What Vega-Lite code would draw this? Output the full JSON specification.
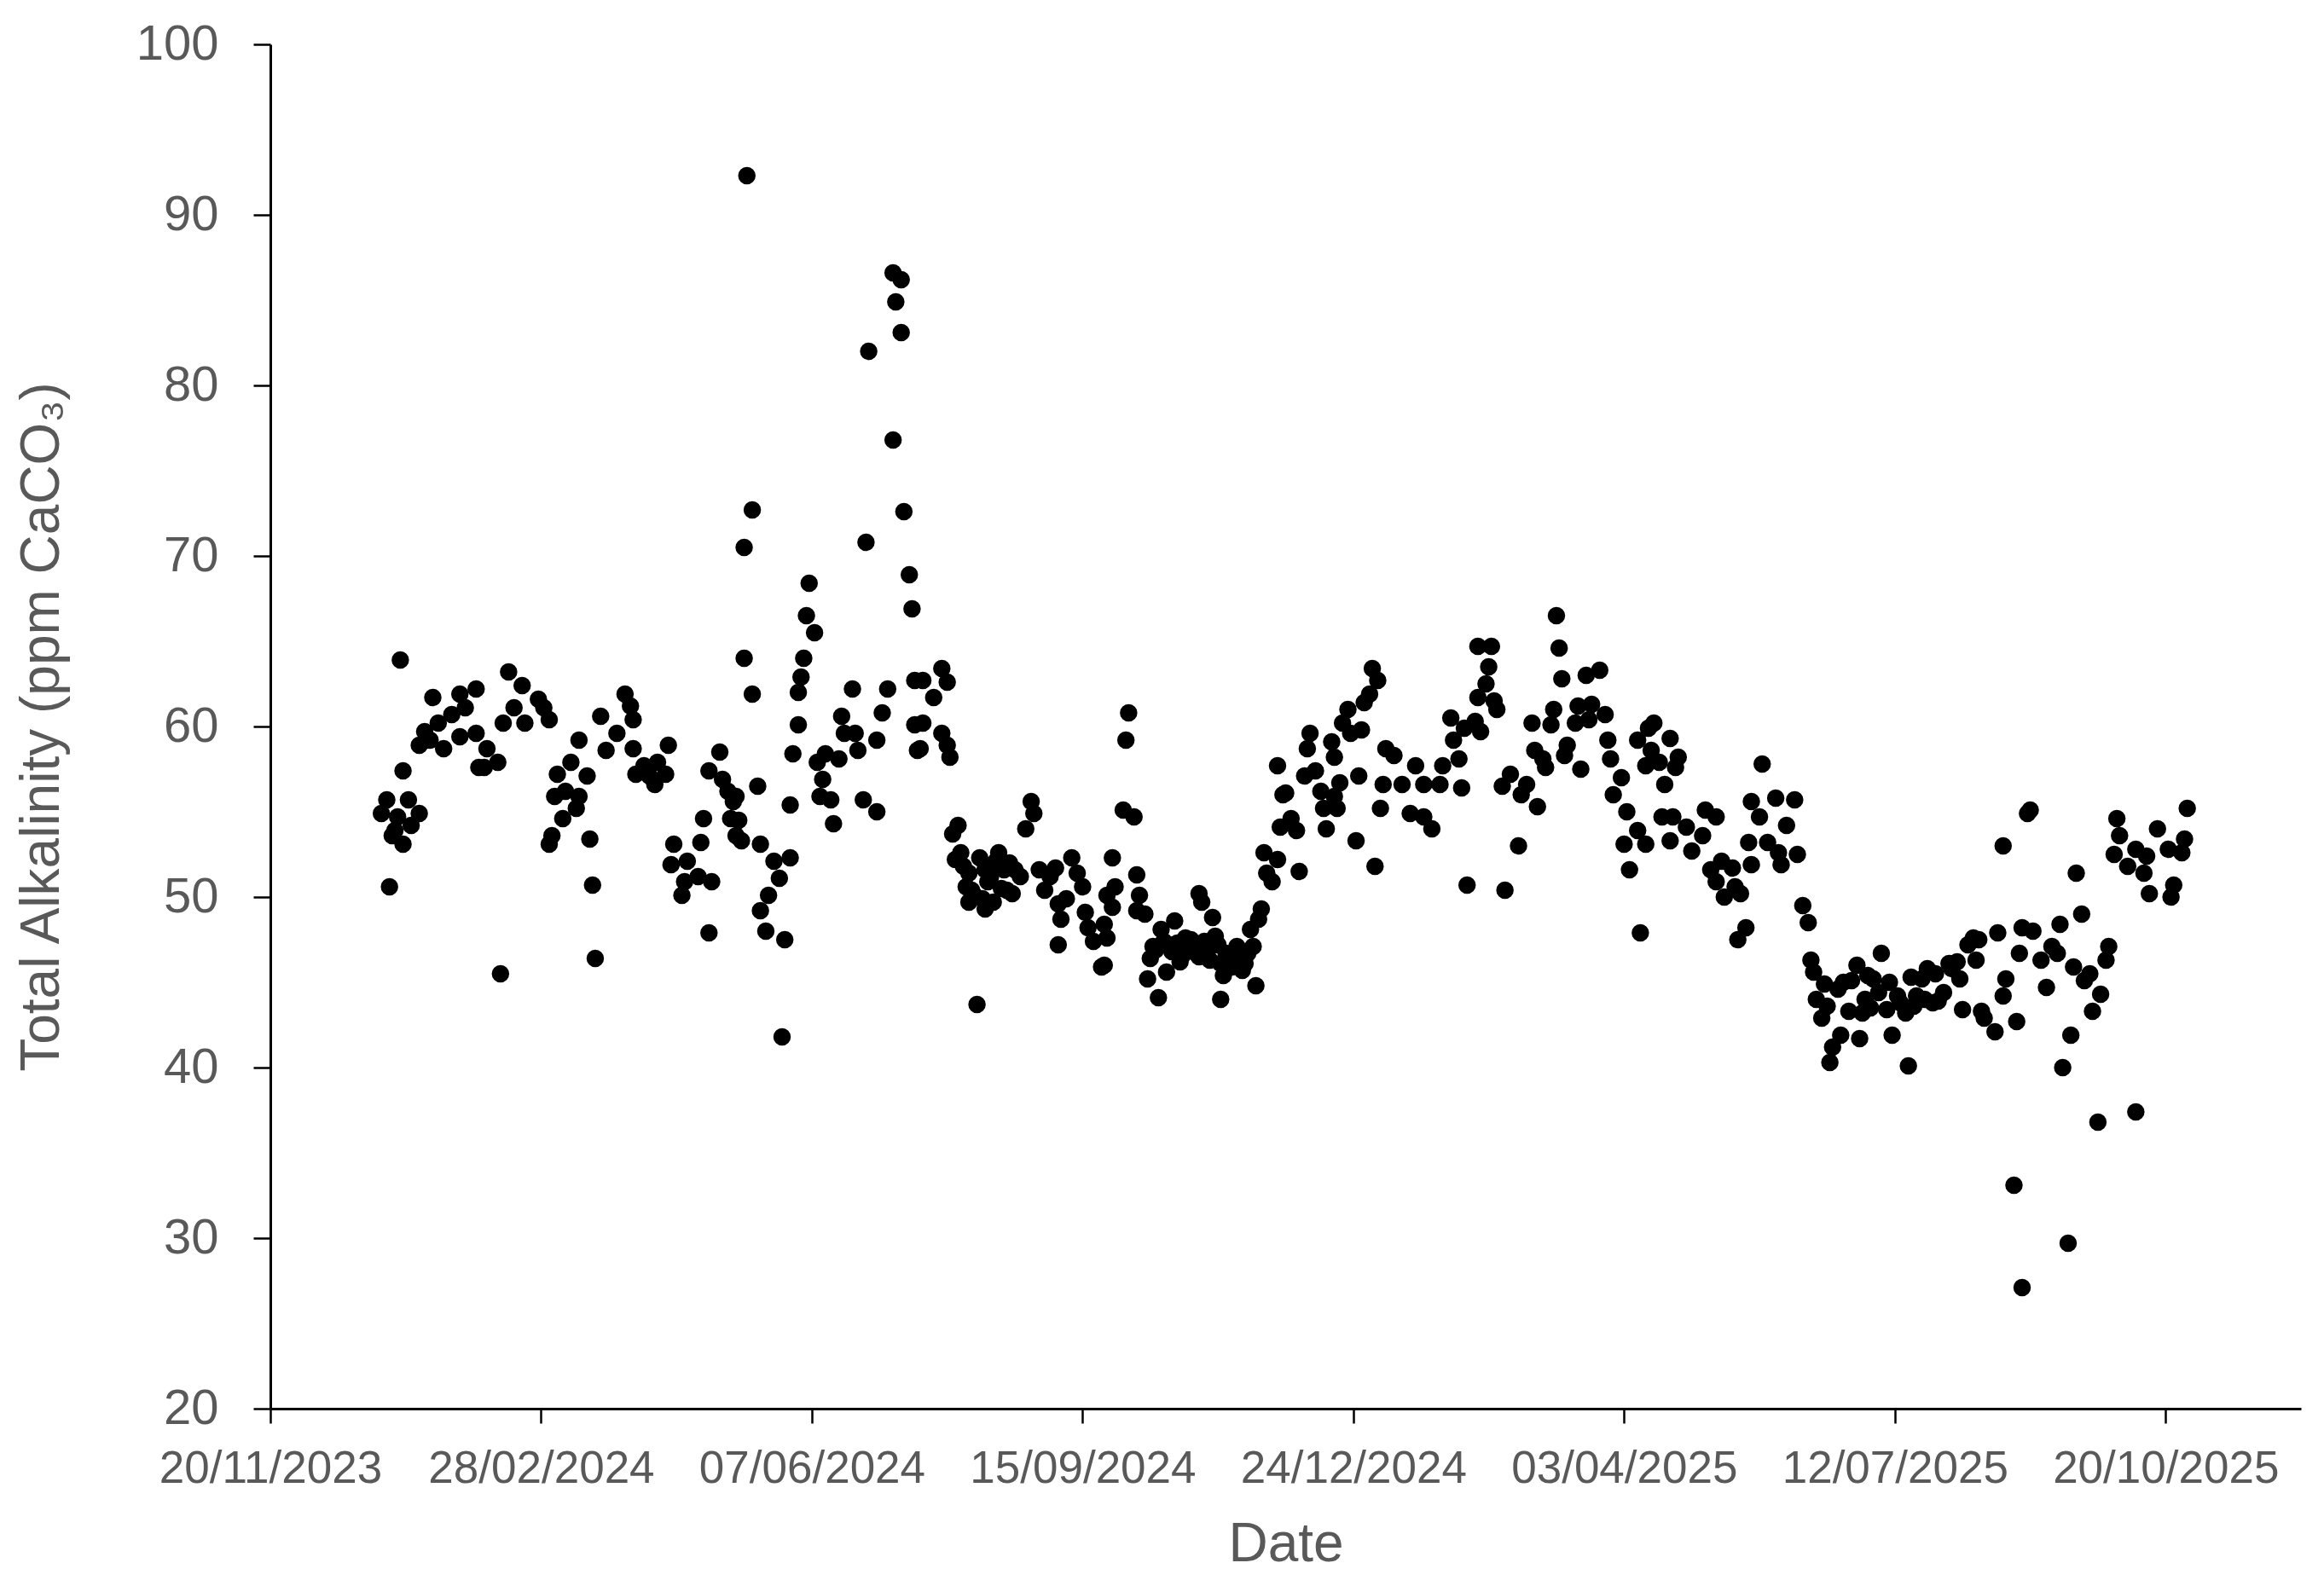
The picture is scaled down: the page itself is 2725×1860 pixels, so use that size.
{
  "$schema": "https://vega.github.io/schema/vega-lite/v6.json",
  "width": 2381,
  "height": 1600,
  "autosize": {"type": "none"},
  "padding": {"left": 317, "top": 52, "right": 27, "bottom": 208},
  "background": "white",
  "config": {"view": {"stroke": null}},
  "data": {"values": [
    {"date":"2024-01-07","ta":63.9},{"date":"2024-02-16","ta":63.2},{"date":"2024-01-19","ta":61.7},{"date":"2024-01-29","ta":61.9},{"date":"2024-02-04","ta":62.2},{"date":"2024-01-26","ta":60.7},{"date":"2024-01-31","ta":61.1},{"date":"2024-01-21","ta":60.2},{"date":"2024-01-16","ta":59.7},{"date":"2024-01-14","ta":58.9},{"date":"2024-01-18","ta":59.2},{"date":"2024-01-23","ta":58.7},{"date":"2024-01-29","ta":59.4},{"date":"2024-02-04","ta":59.6},{"date":"2024-02-08","ta":58.7},{"date":"2024-02-07","ta":57.6},{"date":"2024-02-12","ta":57.9},{"date":"2024-02-05","ta":57.6},{"date":"2024-01-08","ta":57.4},{"date":"2024-01-02","ta":55.7},{"date":"2024-01-10","ta":55.7},{"date":"2023-12-31","ta":54.9},{"date":"2024-01-06","ta":54.7},{"date":"2024-01-14","ta":54.9},{"date":"2024-01-05","ta":53.9},{"date":"2024-01-11","ta":54.2},{"date":"2024-01-08","ta":53.1},{"date":"2024-01-04","ta":53.6},{"date":"2024-01-03","ta":50.6},{"date":"2024-02-13","ta":45.5},{"date":"2024-02-21","ta":62.4},{"date":"2024-02-27","ta":61.6},{"date":"2024-02-14","ta":60.2},{"date":"2024-02-22","ta":60.2},{"date":"2024-02-29","ta":61.1},{"date":"2024-02-18","ta":61.1},
    {"date":"2024-03-02","ta":60.4},{"date":"2024-03-10","ta":57.9},{"date":"2024-03-16","ta":57.1},{"date":"2024-03-05","ta":57.2},{"date":"2024-03-08","ta":56.2},{"date":"2024-03-13","ta":55.9},{"date":"2024-03-04","ta":55.9},{"date":"2024-03-12","ta":55.2},{"date":"2024-03-07","ta":54.6},{"date":"2024-03-03","ta":53.6},{"date":"2024-03-02","ta":53.1},{"date":"2024-03-17","ta":53.4},{"date":"2024-03-18","ta":50.7},{"date":"2024-03-19","ta":46.4},{"date":"2024-03-30","ta":61.9},{"date":"2024-04-01","ta":61.2},{"date":"2024-03-21","ta":60.6},{"date":"2024-04-02","ta":60.4},{"date":"2024-03-27","ta":59.6},{"date":"2024-03-13","ta":59.2},{"date":"2024-03-23","ta":58.6},{"date":"2024-04-02","ta":58.7},{"date":"2024-04-15","ta":58.9},{"date":"2024-04-06","ta":57.7},{"date":"2024-04-11","ta":57.9},{"date":"2024-04-14","ta":57.2},{"date":"2024-04-03","ta":57.2},{"date":"2024-04-10","ta":56.6},{"date":"2024-04-08","ta":57.1},{"date":"2024-04-28","ta":54.6},{"date":"2024-04-17","ta":53.1},{"date":"2024-04-27","ta":53.2},{"date":"2024-04-16","ta":51.9},{"date":"2024-04-22","ta":52.1},{"date":"2024-04-26","ta":51.2},{"date":"2024-05-01","ta":50.9},{"date":"2024-04-20","ta":50.1},{"date":"2024-04-21","ta":50.9},{"date":"2024-04-30","ta":47.9},{"date":"2024-05-04","ta":58.5},{"date":"2024-04-30","ta":57.4},{"date":"2024-05-05","ta":56.9},{"date":"2024-05-07","ta":56.2},{"date":"2024-05-09","ta":55.6},{"date":"2024-05-08","ta":54.6},{"date":"2024-05-10","ta":53.6},
    {"date":"2024-05-14","ta":92.3},{"date":"2024-07-07","ta":86.6},{"date":"2024-07-10","ta":86.2},{"date":"2024-07-08","ta":84.9},{"date":"2024-07-10","ta":83.1},{"date":"2024-06-28","ta":82.0},{"date":"2024-07-07","ta":76.8},{"date":"2024-05-16","ta":72.7},{"date":"2024-05-13","ta":70.5},{"date":"2024-07-11","ta":72.6},{"date":"2024-06-27","ta":70.8},{"date":"2024-07-13","ta":68.9},{"date":"2024-07-14","ta":66.9},{"date":"2024-06-06","ta":68.4},{"date":"2024-06-05","ta":66.5},{"date":"2024-06-08","ta":65.5},{"date":"2024-05-13","ta":64.0},{"date":"2024-06-04","ta":64.0},{"date":"2024-06-03","ta":62.9},{"date":"2024-05-16","ta":61.9},{"date":"2024-06-02","ta":62.0},{"date":"2024-06-22","ta":62.2},{"date":"2024-07-05","ta":62.2},{"date":"2024-07-15","ta":62.7},{"date":"2024-06-02","ta":60.1},{"date":"2024-06-18","ta":60.6},{"date":"2024-07-03","ta":60.8},{"date":"2024-07-15","ta":60.1},{"date":"2024-05-31","ta":58.4},{"date":"2024-06-19","ta":59.6},{"date":"2024-06-23","ta":59.6},{"date":"2024-06-09","ta":57.9},{"date":"2024-06-12","ta":58.4},{"date":"2024-06-17","ta":58.1},{"date":"2024-06-24","ta":58.6},{"date":"2024-07-01","ta":59.2},{"date":"2024-07-16","ta":58.6},{"date":"2024-05-18","ta":56.5},{"date":"2024-06-11","ta":56.9},{"date":"2024-05-30","ta":55.4},{"date":"2024-06-10","ta":55.9},{"date":"2024-06-14","ta":55.7},{"date":"2024-06-15","ta":54.3},{"date":"2024-06-26","ta":55.7},{"date":"2024-07-01","ta":55.0},{"date":"2024-05-10","ta":55.9},{"date":"2024-05-11","ta":54.5},{"date":"2024-05-12","ta":53.3},{"date":"2024-05-19","ta":53.1},{"date":"2024-05-24","ta":52.1},{"date":"2024-05-30","ta":52.3},{"date":"2024-05-26","ta":51.1},{"date":"2024-05-22","ta":50.1},{"date":"2024-05-19","ta":49.2},{"date":"2024-05-21","ta":48.0},{"date":"2024-05-28","ta":47.5},{"date":"2024-05-27","ta":41.8},
    {"date":"2024-07-25","ta":63.4},{"date":"2024-07-18","ta":62.7},{"date":"2024-07-27","ta":62.6},{"date":"2024-07-22","ta":61.7},{"date":"2024-07-18","ta":60.2},{"date":"2024-07-25","ta":59.6},{"date":"2024-07-17","ta":58.7},{"date":"2024-07-27","ta":58.9},{"date":"2024-07-28","ta":58.2},{"date":"2024-08-27","ta":55.6},{"date":"2024-08-28","ta":54.9},{"date":"2024-08-25","ta":54.0},{"date":"2024-07-31","ta":54.2},{"date":"2024-07-29","ta":53.7},{"date":"2024-08-01","ta":52.6},{"date":"2024-07-30","ta":52.2},{"date":"2024-08-15","ta":52.6},{"date":"2024-09-11","ta":52.3},{"date":"2024-08-04","ta":51.4},{"date":"2024-08-10","ta":51.6},{"date":"2024-08-17","ta":51.6},{"date":"2024-08-23","ta":51.2},{"date":"2024-08-30","ta":51.6},{"date":"2024-09-03","ta":51.2},{"date":"2024-09-13","ta":51.4},{"date":"2024-09-15","ta":50.6},{"date":"2024-08-03","ta":50.6},{"date":"2024-08-06","ta":50.1},{"date":"2024-08-11","ta":50.9},{"date":"2024-08-18","ta":50.4},{"date":"2024-08-04","ta":49.7},{"date":"2024-08-10","ta":49.3},{"date":"2024-09-01","ta":50.4},{"date":"2024-09-06","ta":49.6},{"date":"2024-09-09","ta":49.9},{"date":"2024-09-07","ta":48.7},{"date":"2024-09-16","ta":49.1},{"date":"2024-09-17","ta":48.2},{"date":"2024-09-06","ta":47.2},{"date":"2024-09-19","ta":47.4},{"date":"2024-09-22","ta":45.9},{"date":"2024-08-07","ta":43.7},
    {"date":"2024-08-02","ta":51.8},{"date":"2024-08-05","ta":50.4},{"date":"2024-08-08","ta":52.3},{"date":"2024-08-09","ta":49.9},{"date":"2024-08-12","ta":51.2},{"date":"2024-08-13","ta":49.7},{"date":"2024-08-14","ta":52.1},{"date":"2024-08-16","ta":50.5},{"date":"2024-08-19","ta":52.0},{"date":"2024-08-20","ta":50.2},{"date":"2024-08-21","ta":51.6},{"date":"2024-09-05","ta":51.7},
    {"date":"2024-10-02","ta":60.8},{"date":"2024-10-01","ta":59.2},{"date":"2024-09-30","ta":55.1},{"date":"2024-10-04","ta":54.7},{"date":"2024-11-26","ta":57.7},{"date":"2024-11-28","ta":56.0},{"date":"2024-11-27","ta":54.1},{"date":"2024-11-21","ta":52.6},{"date":"2024-11-26","ta":52.2},{"date":"2024-11-22","ta":51.4},{"date":"2024-11-24","ta":50.9},{"date":"2024-09-26","ta":52.3},{"date":"2024-10-05","ta":51.3},{"date":"2024-09-27","ta":50.6},{"date":"2024-09-24","ta":50.1},{"date":"2024-10-06","ta":50.1},{"date":"2024-09-26","ta":49.4},{"date":"2024-10-05","ta":49.2},{"date":"2024-10-08","ta":49.0},{"date":"2024-09-23","ta":48.4},{"date":"2024-09-24","ta":47.6},{"date":"2024-09-23","ta":46.0},{"date":"2024-10-28","ta":50.2},{"date":"2024-10-29","ta":49.7},{"date":"2024-11-02","ta":48.8},{"date":"2024-11-20","ta":49.3},{"date":"2024-11-19","ta":48.7},{"date":"2024-11-16","ta":48.1},{"date":"2024-10-19","ta":48.6},{"date":"2024-10-14","ta":48.1},{"date":"2024-10-23","ta":47.6},{"date":"2024-11-03","ta":47.7},{"date":"2024-10-11","ta":47.1},{"date":"2024-10-17","ta":47.2},{"date":"2024-10-26","ta":47.1},{"date":"2024-10-31","ta":46.9},{"date":"2024-11-07","ta":46.7},{"date":"2024-11-11","ta":47.1},{"date":"2024-11-17","ta":47.1},{"date":"2024-10-10","ta":46.4},{"date":"2024-10-22","ta":46.6},{"date":"2024-10-28","ta":46.5},{"date":"2024-11-05","ta":46.1},{"date":"2024-11-09","ta":45.9},{"date":"2024-11-14","ta":46.1},{"date":"2024-10-16","ta":45.6},{"date":"2024-11-06","ta":45.4},{"date":"2024-10-09","ta":45.2},{"date":"2024-11-18","ta":44.8},{"date":"2024-10-13","ta":44.1},{"date":"2024-11-05","ta":44.0},
    {"date":"2024-10-12","ta":46.9},{"date":"2024-10-15","ta":47.4},{"date":"2024-10-18","ta":46.8},{"date":"2024-10-20","ta":47.3},{"date":"2024-10-21","ta":46.2},{"date":"2024-10-24","ta":46.9},{"date":"2024-10-25","ta":47.5},{"date":"2024-10-27","ta":46.7},{"date":"2024-10-30","ta":47.4},{"date":"2024-11-01","ta":46.3},{"date":"2024-11-04","ta":47.2},{"date":"2024-11-08","ta":46.5},{"date":"2024-11-10","ta":46.2},{"date":"2024-11-12","ta":46.8},{"date":"2024-11-13","ta":45.7},{"date":"2024-11-15","ta":46.7},
    {"date":"2024-12-31","ta":63.4},{"date":"2025-01-02","ta":62.7},{"date":"2024-12-30","ta":61.9},{"date":"2024-12-28","ta":61.4},{"date":"2024-12-22","ta":61.0},{"date":"2024-12-20","ta":60.2},{"date":"2024-12-23","ta":59.6},{"date":"2024-12-27","ta":59.8},{"date":"2024-12-08","ta":59.6},{"date":"2024-12-07","ta":58.7},{"date":"2024-12-16","ta":59.1},{"date":"2024-12-17","ta":58.2},{"date":"2025-01-05","ta":58.7},{"date":"2025-01-08","ta":58.3},{"date":"2025-01-29","ta":60.5},{"date":"2025-01-30","ta":59.2},{"date":"2025-02-03","ta":59.9},{"date":"2024-12-06","ta":57.1},{"date":"2024-12-10","ta":57.4},{"date":"2024-12-19","ta":56.7},{"date":"2024-12-26","ta":57.1},{"date":"2024-12-12","ta":56.2},{"date":"2024-12-17","ta":55.9},{"date":"2024-12-13","ta":55.2},{"date":"2024-12-18","ta":55.2},{"date":"2024-11-29","ta":56.1},{"date":"2025-01-16","ta":57.7},{"date":"2025-01-26","ta":57.7},{"date":"2025-02-01","ta":58.1},{"date":"2025-02-02","ta":56.4},{"date":"2025-01-04","ta":56.6},{"date":"2025-01-11","ta":56.6},{"date":"2025-01-19","ta":56.6},{"date":"2025-01-25","ta":56.6},{"date":"2025-01-03","ta":55.2},{"date":"2025-01-14","ta":54.9},{"date":"2025-01-19","ta":54.7},{"date":"2025-01-22","ta":54.0},{"date":"2024-12-01","ta":54.6},{"date":"2024-12-03","ta":53.9},{"date":"2024-12-14","ta":54.0},{"date":"2024-12-25","ta":53.3},{"date":"2024-12-04","ta":51.5},{"date":"2025-01-01","ta":51.8},{"date":"2025-02-04","ta":50.7},
    {"date":"2025-03-09","ta":66.5},{"date":"2025-03-10","ta":64.6},{"date":"2025-02-08","ta":64.7},{"date":"2025-02-13","ta":64.7},{"date":"2025-02-12","ta":63.5},{"date":"2025-02-11","ta":62.5},{"date":"2025-02-08","ta":61.7},{"date":"2025-02-14","ta":61.5},{"date":"2025-02-15","ta":61.0},{"date":"2025-02-07","ta":60.3},{"date":"2025-02-09","ta":59.7},{"date":"2025-03-11","ta":62.8},{"date":"2025-03-20","ta":63.0},{"date":"2025-03-25","ta":63.3},{"date":"2025-03-08","ta":61.0},{"date":"2025-03-17","ta":61.2},{"date":"2025-03-22","ta":61.3},{"date":"2025-03-27","ta":60.7},{"date":"2025-03-16","ta":60.2},{"date":"2025-03-21","ta":60.4},{"date":"2025-02-28","ta":60.2},{"date":"2025-03-07","ta":60.1},{"date":"2025-03-28","ta":59.2},{"date":"2025-04-08","ta":59.2},{"date":"2025-04-12","ta":59.9},{"date":"2025-03-13","ta":58.9},{"date":"2025-03-12","ta":58.3},{"date":"2025-03-01","ta":58.6},{"date":"2025-03-04","ta":58.1},{"date":"2025-03-05","ta":57.6},{"date":"2025-03-18","ta":57.5},{"date":"2025-03-29","ta":58.1},{"date":"2025-04-11","ta":57.7},{"date":"2025-04-02","ta":57.0},{"date":"2025-03-30","ta":56.0},{"date":"2025-02-20","ta":57.2},{"date":"2025-02-17","ta":56.5},{"date":"2025-02-26","ta":56.6},{"date":"2025-02-24","ta":56.0},{"date":"2025-03-02","ta":55.3},{"date":"2025-04-04","ta":55.0},{"date":"2025-04-08","ta":53.9},{"date":"2025-04-03","ta":53.1},{"date":"2025-04-11","ta":53.1},{"date":"2025-04-05","ta":51.6},{"date":"2025-02-23","ta":53.0},{"date":"2025-02-18","ta":50.4},{"date":"2025-04-09","ta":47.9},
    {"date":"2025-04-14","ta":60.2},{"date":"2025-04-20","ta":59.3},{"date":"2025-04-13","ta":58.6},{"date":"2025-04-23","ta":58.2},{"date":"2025-04-16","ta":57.9},{"date":"2025-04-22","ta":57.6},{"date":"2025-04-18","ta":56.6},{"date":"2025-05-24","ta":57.8},{"date":"2025-05-20","ta":55.6},{"date":"2025-05-29","ta":55.8},{"date":"2025-06-05","ta":55.7},{"date":"2025-05-23","ta":54.7},{"date":"2025-06-02","ta":54.2},{"date":"2025-05-03","ta":55.1},{"date":"2025-05-07","ta":54.7},{"date":"2025-04-17","ta":54.7},{"date":"2025-04-21","ta":54.7},{"date":"2025-04-26","ta":54.1},{"date":"2025-05-02","ta":53.6},{"date":"2025-04-20","ta":53.3},{"date":"2025-04-28","ta":52.7},{"date":"2025-05-19","ta":53.2},{"date":"2025-05-26","ta":53.2},{"date":"2025-05-30","ta":52.6},{"date":"2025-06-06","ta":52.5},{"date":"2025-05-20","ta":51.9},{"date":"2025-05-31","ta":51.9},{"date":"2025-05-09","ta":52.1},{"date":"2025-05-05","ta":51.6},{"date":"2025-05-13","ta":51.7},{"date":"2025-05-07","ta":50.9},{"date":"2025-05-14","ta":50.6},{"date":"2025-05-10","ta":50.0},{"date":"2025-05-16","ta":50.2},{"date":"2025-06-08","ta":49.5},{"date":"2025-06-10","ta":48.5},{"date":"2025-05-18","ta":48.2},{"date":"2025-05-15","ta":47.5},{"date":"2025-06-11","ta":46.3},{"date":"2025-06-12","ta":45.6},{"date":"2025-06-16","ta":44.9},{"date":"2025-06-13","ta":44.0},{"date":"2025-06-17","ta":43.6},{"date":"2025-06-15","ta":42.9},{"date":"2025-06-18","ta":40.3},{"date":"2025-06-19","ta":41.2},
    {"date":"2025-08-21","ta":53.0},{"date":"2025-08-10","ta":47.6},{"date":"2025-08-19","ta":47.9},{"date":"2025-08-22","ta":45.2},{"date":"2025-08-21","ta":44.2},{"date":"2025-08-11","ta":46.3},{"date":"2025-07-07","ta":46.7},{"date":"2025-06-28","ta":46.0},{"date":"2025-07-04","ta":45.2},{"date":"2025-06-23","ta":45.0},{"date":"2025-07-01","ta":44.0},{"date":"2025-07-06","ta":44.4},{"date":"2025-07-13","ta":44.2},{"date":"2025-07-16","ta":43.2},{"date":"2025-07-11","ta":41.9},{"date":"2025-06-30","ta":43.2},{"date":"2025-06-22","ta":41.9},{"date":"2025-06-29","ta":41.7},{"date":"2025-07-17","ta":40.1},{"date":"2025-07-22","ta":45.2},{"date":"2025-07-20","ta":44.2},{"date":"2025-07-26","ta":43.8},{"date":"2025-08-01","ta":46.1},{"date":"2025-07-30","ta":44.4},{"date":"2025-08-05","ta":45.2},{"date":"2025-08-06","ta":43.4},{"date":"2025-08-14","ta":42.9},{"date":"2025-08-18","ta":42.1},{"date":"2025-08-25","ta":33.1},
    {"date":"2025-06-21","ta":44.6},{"date":"2025-06-25","ta":43.3},{"date":"2025-06-26","ta":45.1},{"date":"2025-07-02","ta":45.4},{"date":"2025-07-03","ta":43.5},{"date":"2025-07-09","ta":43.4},{"date":"2025-07-10","ta":45.0},{"date":"2025-07-14","ta":43.8},{"date":"2025-07-18","ta":45.3},{"date":"2025-07-19","ta":43.6},{"date":"2025-07-23","ta":44.0},{"date":"2025-07-24","ta":45.8},{"date":"2025-07-27","ta":45.5},{"date":"2025-07-28","ta":43.9},{"date":"2025-08-02","ta":45.8},{"date":"2025-08-04","ta":46.2},{"date":"2025-08-08","ta":47.2},{"date":"2025-08-12","ta":47.5},{"date":"2025-08-13","ta":43.3},
    {"date":"2025-08-31","ta":55.1},{"date":"2025-08-30","ta":54.9},{"date":"2025-10-02","ta":54.6},{"date":"2025-10-03","ta":53.6},{"date":"2025-10-28","ta":55.2},{"date":"2025-10-17","ta":54.0},{"date":"2025-10-27","ta":53.4},{"date":"2025-10-01","ta":52.5},{"date":"2025-10-09","ta":52.8},{"date":"2025-10-13","ta":52.4},{"date":"2025-10-21","ta":52.8},{"date":"2025-10-26","ta":52.6},{"date":"2025-10-06","ta":51.8},{"date":"2025-10-12","ta":51.4},{"date":"2025-10-14","ta":50.2},{"date":"2025-10-23","ta":50.7},{"date":"2025-10-22","ta":50.0},{"date":"2025-09-17","ta":51.4},{"date":"2025-09-19","ta":49.0},{"date":"2025-09-11","ta":48.4},{"date":"2025-08-28","ta":48.2},{"date":"2025-09-01","ta":48.0},{"date":"2025-09-08","ta":47.1},{"date":"2025-08-27","ta":46.7},{"date":"2025-09-04","ta":46.3},{"date":"2025-09-10","ta":46.7},{"date":"2025-09-29","ta":47.1},{"date":"2025-09-28","ta":46.3},{"date":"2025-09-16","ta":45.9},{"date":"2025-09-22","ta":45.5},{"date":"2025-09-20","ta":45.1},{"date":"2025-09-06","ta":44.7},{"date":"2025-09-26","ta":44.3},{"date":"2025-09-23","ta":43.3},{"date":"2025-08-26","ta":42.7},{"date":"2025-09-15","ta":41.9},{"date":"2025-09-12","ta":40.0},{"date":"2025-09-25","ta":36.8},{"date":"2025-10-09","ta":37.4},{"date":"2025-09-14","ta":29.7},{"date":"2025-08-28","ta":27.1}
  ]},
  "mark": {"type": "circle", "size": 420, "color": "black", "opacity": 1},
  "encoding": {
    "x": {
      "field": "date",
      "type": "temporal",
      "scale": {"type": "utc", "domain": [{"year": 2023, "month": 11, "date": 20, "utc": true}, {"year": 2025, "month": 12, "date": 9, "utc": true}]},
      "axis": {
        "title": "Date",
        "values": [
          {"year": 2023, "month": 11, "date": 20, "utc": true},
          {"year": 2024, "month": 2, "date": 28, "utc": true},
          {"year": 2024, "month": 6, "date": 7, "utc": true},
          {"year": 2024, "month": 9, "date": 15, "utc": true},
          {"year": 2024, "month": 12, "date": 24, "utc": true},
          {"year": 2025, "month": 4, "date": 3, "utc": true},
          {"year": 2025, "month": 7, "date": 12, "utc": true},
          {"year": 2025, "month": 10, "date": 20, "utc": true}
        ],
        "labelExpr": "utcFormat(datum.value, '%d/%m/%Y')",
        "grid": false,
        "domainColor": "black",
        "domainWidth": 3,
        "tickColor": "black",
        "tickWidth": 2.5,
        "tickSize": 17,
        "labelFont": "Liberation Sans",
        "labelFontSize": 53,
        "labelColor": "#595959",
        "labelPadding": 27,
        "labelLimit": 0,
        "labelFlush": false,
        "labelOverlap": false,
        "titleFont": "Liberation Sans",
        "titleFontSize": 64,
        "titleFontWeight": "normal",
        "titleColor": "#595959",
        "titlePadding": 30
      }
    },
    "y": {
      "field": "ta",
      "type": "quantitative",
      "scale": {"domain": [20, 100], "nice": false, "zero": false},
      "axis": {
        "title": "Total Alkalinity (ppm CaCO₃)",
        "values": [20, 30, 40, 50, 60, 70, 80, 90, 100],
        "grid": false,
        "domainColor": "black",
        "domainWidth": 3,
        "tickColor": "black",
        "tickWidth": 2.5,
        "tickSize": 20,
        "labelFont": "Liberation Sans",
        "labelFontSize": 58,
        "labelColor": "#595959",
        "labelPadding": 41,
        "labelLimit": 0,
        "labelFlush": false,
        "titleFont": "Liberation Sans",
        "titleFontSize": 64,
        "titleFontWeight": "normal",
        "titleColor": "#595959",
        "titleLimit": 0,
        "titlePadding": 78
      }
    }
  }
}
